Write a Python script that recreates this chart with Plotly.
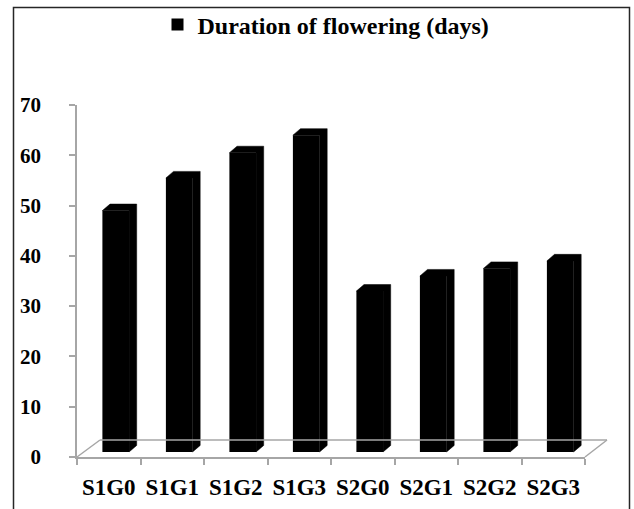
import plotly.graph_objects as go

categories = ["S1G0", "S1G1", "S1G2", "S1G3", "S2G0", "S2G1", "S2G2", "S2G3"]
duration_days = [48, 54.5, 59.5, 63, 32, 35, 36.5, 38]
series_name = "Duration of flowering (days)"
y_ticks = [0, 10, 20, 30, 40, 50, 60, 70]

# pseudo-3D styling parameters (data units)
BASE = 1.0       # bar sits slightly above the front floor edge
OFF = -0.10      # front face offset from category centre
WID = 0.42       # front face width
DX = 0.12        # depth shift in x
DY = 1.3         # depth shift in y

idx = list(range(len(categories)))

fig = go.Figure()

fig.add_trace(go.Bar(
    x=idx, y=duration_days, base=[BASE] * len(idx),
    offset=OFF, width=WID,
    marker=dict(color="black", line=dict(width=0)),
    name=series_name, showlegend=True,
))

# depth (top + right side) of each bar, derived from the values
xs, ys = [], []
for i, v in zip(idx, duration_days):
    x0 = i + OFF
    x1 = x0 + WID
    top = BASE + v
    xs += [x0, x0 + DX, x1 + DX, x1 + DX, x1, x1, x0, None]
    ys += [top, top + DY, top + DY, BASE + DY, BASE, top, top, None]
fig.add_trace(go.Scatter(
    x=xs, y=ys, mode="lines", fill="toself", fillcolor="black",
    line=dict(color="black", width=0.5), showlegend=False, hoverinfo="skip",
))

gray = "#a6a6a6"
font_family = "Liberation Serif"

# plot area: x px 77..585, y px 105..457
FW, FH = 634, 509
L, R, T, B = 77, 585, 105, 457
W, H = R - L, B - T

def px(xp):
    return (xp - L) / W

def py(yp):
    return (B - yp) / H

shapes = [
    # floor back edge and sides
    dict(type="line", xref="paper", yref="paper", x0=px(77), y0=py(457), x1=px(100), y1=py(440),
         line=dict(color=gray, width=1.5)),
    dict(type="line", xref="paper", yref="paper", x0=px(100), y0=py(440), x1=px(607), y1=py(440),
         line=dict(color=gray, width=1.5)),
    dict(type="line", xref="paper", yref="paper", x0=px(585), y0=py(457), x1=px(607), y1=py(440),
         line=dict(color=gray, width=1.5)),
    # outer frame
    dict(type="rect", xref="paper", yref="paper", x0=px(13.5), y0=py(7.5), x1=px(629.5), y1=py(540),
         line=dict(color="#262626", width=1.5), layer="above"),
]

fig.update_layout(
    width=FW, height=FH,
    margin=dict(l=L, r=FW - R, t=T, b=FH - B, autoexpand=False),
    paper_bgcolor="white", plot_bgcolor="white",
    barmode="overlay",
    showlegend=True,
    legend=dict(
        orientation="h", xref="container", yref="container",
        x=326 / FW, xanchor="center", y=1 - 25 / FH, yanchor="middle",
        font=dict(family=font_family, size=24, color="black", weight="bold"),
        bgcolor="rgba(0,0,0,0)", itemwidth=30,
    ),
    shapes=shapes,
    xaxis=dict(
        range=[-0.5, 7.5], tickmode="array", tickvals=idx, ticktext=categories,
        ticks="", showgrid=False, zeroline=False, automargin=False,
        showline=True, linecolor=gray, linewidth=1.5,
        tickfont=dict(family=font_family, size=23, color="black", weight="bold"),
        ticklabelstandoff=9,
        minor=dict(tickmode="array", tickvals=[i - 0.5 for i in range(len(categories) + 1)],
                   ticks="outside", ticklen=6, tickwidth=1.5, tickcolor=gray, showgrid=False),
        fixedrange=True,
    ),
    yaxis=dict(
        range=[0, 70], tickmode="array", tickvals=y_ticks,
        ticks="outside", ticklen=6, tickwidth=1.5, tickcolor=gray,
        showgrid=False, zeroline=False, automargin=False,
        showline=True, linecolor=gray, linewidth=1.5,
        tickfont=dict(family=font_family, size=21, color="black", weight="bold"),
        ticklabelstandoff=24,
        fixedrange=True,
    ),
)

fig.write_html("out.html")
